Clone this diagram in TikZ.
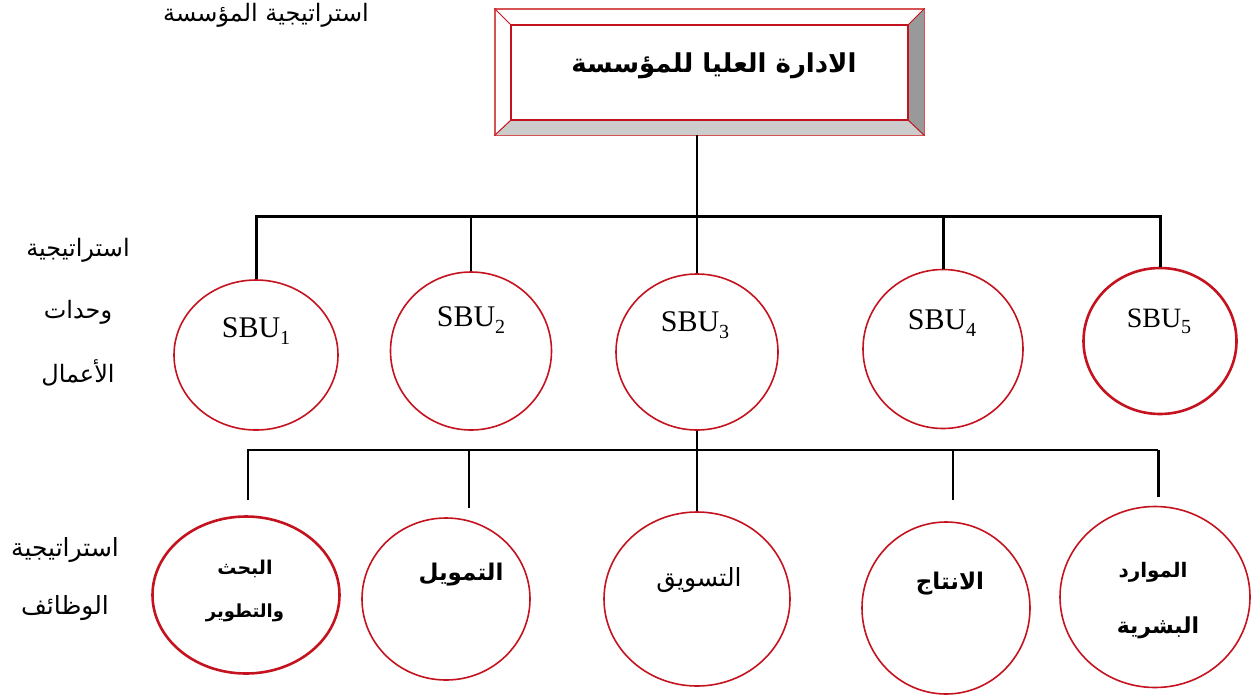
\documentclass[tikz,border=0pt]{standalone}
\usepackage{fontspec}
\setmainfont{Liberation Serif}
\newfontfamily\arabicfont[Script=Arabic]{DejaVu Sans}
\TeXXeTstate=1
\usetikzlibrary{shapes.geometric}
\definecolor{ringred}{RGB}{196,18,30}
\definecolor{framered}{RGB}{214,84,84}
\definecolor{bevdark}{RGB}{153,153,153}
\definecolor{bevlight}{RGB}{204,204,204}
% right-to-left Arabic run
\newcommand{\artext}[1]{{\arabicfont\beginR #1\endR}}
% strategic business unit label with lowered index
\newcommand{\sbulabel}[1]{SBU\raisebox{-0.22em}{\fontsize{20}{20}\selectfont #1}}
\begin{document}
\begin{tikzpicture}[x=1pt,y=-1pt,
  ring/.style={ellipse, draw=ringred, line width=1.6pt, inner sep=0pt},
  thickring/.style={ring, line width=2.6pt},
  conn/.style={line width=3pt, line cap=butt},
  thinconn/.style={line width=2.2pt, line cap=butt},
  lbl/.style={inner sep=0pt, align=center},
  sbufont/.style={lbl, font=\fontsize{30}{30}\selectfont},
  arreg/.style={lbl, font=\fontsize{24}{24}\selectfont},
  arbold/.style={lbl, font=\fontsize{22}{22}\selectfont\bfseries}]
\useasboundingbox (0,0) rectangle (1253,697);

% ---- top management frame with bevelled edges ----
\node[draw=framered, line width=1.2pt, fill=white, minimum width=429, minimum height=126, inner sep=0pt] (top) at (709.5,72) {};
\node[minimum width=397, minimum height=95, inner sep=0pt] (inner) at (709.5,72.5) {};
\fill[bevdark] (top.north east) -- (top.south east) -- (inner.south east) -- (inner.north east) -- cycle;
\fill[bevlight] (top.south west) -- (top.south east) -- (inner.south east) -- (inner.south west) -- cycle;
\draw[framered, line width=1.4pt] (top.north west) rectangle (top.south east);
\draw[ringred, line width=1pt] (top.north west) -- (inner.north west)
  (top.north east) -- (inner.north east)
  (top.south west) -- (inner.south west)
  (top.south east) -- (inner.south east);
\draw[ringred, line width=1.8pt] (inner.north west) rectangle (inner.south east);
\node[lbl, font=\fontsize{26}{26}\selectfont\bfseries] (toptext) at (714,66) {\artext{الادارة العليا للمؤسسة}};

% ---- level captions ----
\node[arreg] (capA) at (266,15) {\artext{استراتيجية المؤسسة}};
\node[arreg] (capB1) at (78,250) {\artext{استراتيجية}};
\node[arreg] (capB2) at (78,312) {\artext{وحدات}};
\node[arreg] (capB3) at (78,373) {\artext{الأعمال}};
\node[arreg, font=\fontsize{25}{25}\selectfont] (capC1) at (65,550) {\artext{استراتيجية}};
\node[arreg, font=\fontsize{25}{25}\selectfont] (capC2) at (65,608) {\artext{الوظائف}};

% ---- business units ----
\node[ring, minimum width=164, minimum height=150] (sbu1) at (256,355) {};
\node[ring, minimum width=161, minimum height=158] (sbu2) at (471,351) {};
\node[ring, minimum width=162, minimum height=156] (sbu3) at (697,352) {};
\node[ring, minimum width=160, minimum height=159] (sbu4) at (943,349) {};
\node[thickring, minimum width=153, minimum height=146] (sbu5) at (1160,341) {};
\node[sbufont] (s1txt) at (256,331) {\sbulabel{1}};
\node[sbufont] (s2txt) at (471,320) {\sbulabel{2}};
\node[sbufont] (s3txt) at (695,325) {\sbulabel{3}};
\node[sbufont] (s4txt) at (942,323) {\sbulabel{4}};
\node[sbufont, font=\fontsize{28}{28}\selectfont] (s5txt) at (1159,321) {\sbulabel{5}};

% ---- functions ----
\node[thickring, minimum width=187, minimum height=157] (f1) at (246,595) {};
\node[ring, minimum width=168, minimum height=162] (f2) at (446,599) {};
\node[ring, minimum width=186, minimum height=174] (f3) at (697,599) {};
\node[ring, minimum width=168, minimum height=172] (f4) at (946,608) {};
\node[ring, minimum width=190, minimum height=181] (f5) at (1155,597) {};
\node[arbold, font=\fontsize{19}{19}\selectfont\bfseries] (f1a) at (245,569) {\artext{البحث}};
\node[arbold, font=\fontsize{18}{18}\selectfont\bfseries] (f1b) at (245,613) {\artext{والتطوير}};
\node[arbold, font=\fontsize{23}{23}\selectfont\bfseries] (f2a) at (461,575) {\artext{التمويل}};
\node[arreg, font=\fontsize{25}{25}\selectfont] (f3a) at (699,580) {\artext{التسويق}};
\node[arbold, font=\fontsize{23}{23}\selectfont\bfseries] (f4a) at (950,584) {\artext{الانتاج}};
\node[arbold, font=\fontsize{20}{20}\selectfont\bfseries] (f5a) at (1153,572) {\artext{الموارد}};
\node[arbold, font=\fontsize{22}{22}\selectfont\bfseries] (f5b) at (1158,628) {\artext{البشرية}};

% ---- connector geometry ----
\coordinate (boxfoot) at (697,135);
\coordinate (busA) at (697,216);
\coordinate (busB) at (697,450);
\coordinate (d1) at (248,500);
\coordinate (d2) at (469,508);
\coordinate (d4) at (953,500);
\coordinate (d5) at (1158,497);

% upper tree
\draw[conn] (sbu1.north) -- (sbu1.north |- busA) -- (sbu5.north |- busA) -- (sbu5.north);
\draw[thinconn] (sbu2.north) -- (sbu2.north |- busA);
\draw[conn] (sbu4.north) -- (sbu4.north |- busA);
\draw[thinconn] (boxfoot) -- (sbu3.north);

% lower tree
\draw[thinconn] (sbu3.south) -- (f3.north);
\draw[thinconn] (d1) -- (d1 |- busB) -- (d5 |- busB);
\draw[conn] (d5 |- busB) -- (d5);
\draw[thinconn] (d2) -- (d2 |- busB);
\draw[thinconn] (d4) -- (d4 |- busB);
\end{tikzpicture}
\end{document}
